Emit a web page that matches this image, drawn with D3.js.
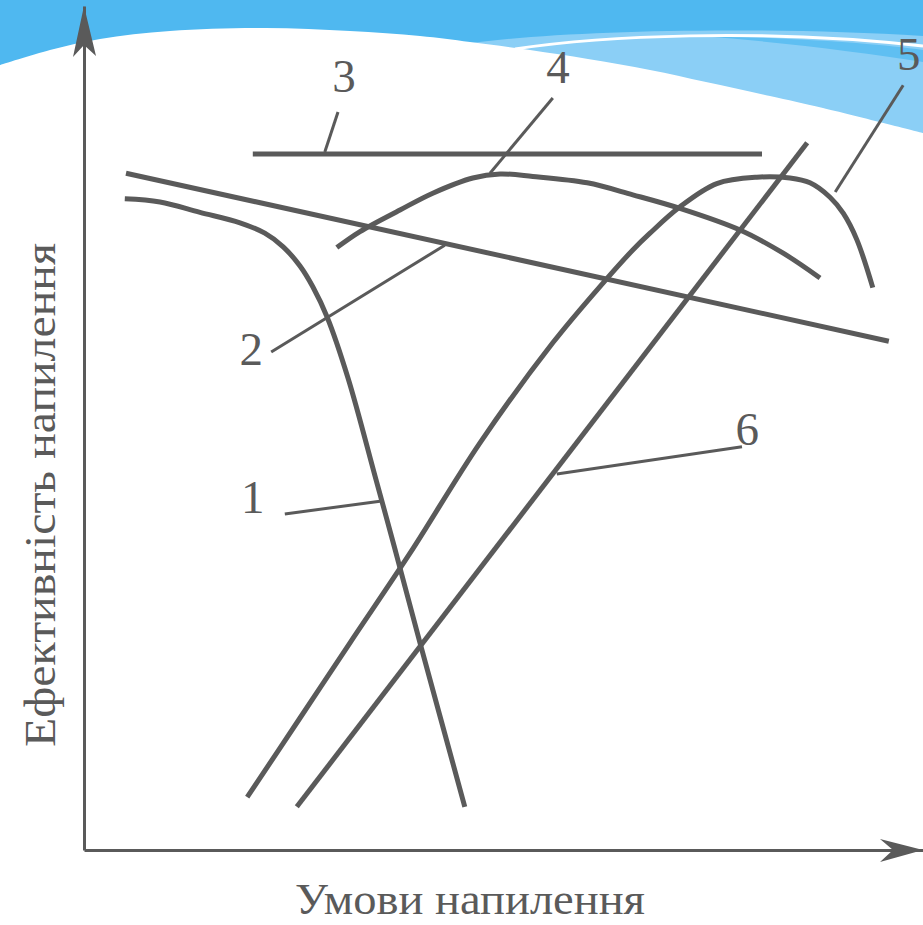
<!DOCTYPE html>
<html>
<head>
<meta charset="utf-8">
<script src="https://cdn.jsdelivr.net/npm/d3@7/dist/d3.min.js"></script>
<style>
  html, body { margin: 0; padding: 0; background: #fff; }
  svg { display: block; }
  text { font-family: 'Liberation Serif', 'Times New Roman', Tinos, 'DejaVu Serif', serif; }
</style>
</head>
<body>
<div id="chart"></div>
<script>
// values, in axis units (x: 0..105, y: 0..105.5)
const series1 = [[5.1, 81.4], [9.5, 81.0], [14.5, 79.7], [19.5, 78.4], [22.6, 77.1], [24.9, 75.4],
  [27.0, 73.0], [28.6, 70.4], [30.4, 66.6], [33.0, 59.0], [36.5, 46.3], [38.9, 37.5],
  [42.0, 25.9], [47.6, 5.4]]
const series2 = [[5.25, 84.6], [100.6, 63.6]]
const series3 = [[21.1, 87.0], [84.75, 87.0]]
const series4 = [[31.6, 75.3], [34.5, 77.3], [39.5, 80.0], [43.6, 82.1], [48.6, 84.0], [52.0, 84.5],
  [56.1, 84.2], [62.9, 83.4], [68.6, 81.9], [74.5, 80.2], [82.0, 77.5], [87.4, 74.6], [92.0, 71.5]]
const series5 = [[20.4, 6.6], [27.0, 16.5], [33.25, 25.9], [40.75, 37.1], [49.5, 50.9], [58.6, 63.4],
  [64.9, 70.9], [68.6, 75.0], [70.75, 77.1], [74.5, 80.4], [79.1, 83.3], [84.1, 84.1],
  [88.25, 84.0], [90.75, 83.4], [93.25, 81.6], [94.9, 79.6], [96.6, 76.3], [98.6, 70.3]]
const series6 = [[26.6, 5.4], [90.4, 88.4]]

const seriesNames = ['1', '2', '3', '4', '5', '6']
// label anchor and leader line (from label to curve) for each series
const labelAt = [[21.1, 42.1], [20.9, 60.6], [32.5, 94.75], [59.25, 95.9], [103.1, 97.5], [82.9, 50.6]]
const leaders = [
  [[25.1, 42.0], [37.0, 43.6]],
  [[23.4, 62.25], [45.1, 75.6]],
  [[31.75, 92.25], [30.1, 87.25]],
  [[58.6, 94.0], [50.75, 84.6]],
  [[102.4, 95.6], [93.9, 82.25]],
  [[82.25, 50.4], [59.1, 47.0]]
]

const xTitle = 'Умови напилення'
const yTitle = 'Ефективність напилення'

const width = 923
const height = 925
const ink = '#5a5a5a'
const serif = "'Liberation Serif', 'Times New Roman', Tinos, 'DejaVu Serif', serif"

const svg = d3.select('#chart').append('svg')
  .attr('width', width).attr('height', height)
  .attr('viewBox', `0 0 ${width} ${height}`)

// slide background: blue band with white wave
const bg = svg.append('g')
bg.append('rect').attr('width', width).attr('height', 160).attr('fill', '#4fb8f0')
bg.append('path')
  .attr('d', 'M465,44 C560,30 760,26 923,36 L923,260 L465,260 Z')
  .attr('fill', '#8bcff6')
bg.append('path')
  .attr('d', 'M700,36 C800,38 880,44 923,50 L923,62 C860,52 780,42 700,36 Z')
  .attr('fill', '#5fbff2')
bg.append('path')
  .attr('d', 'M515,49 C600,36 760,28 923,46')
  .attr('fill', 'none').attr('stroke', '#fff').attr('stroke-width', 3)
const waveTop = [[0, 65], [50, 50], [100, 39], [170, 31], [265, 28], [350, 31], [420, 36], [470, 42],
  [530, 50], [588, 59], [650, 70], [706, 82], [770, 96], [823, 108], [923, 133]]
const wave = d3.line().curve(d3.curveCatmullRom)(waveTop)
bg.append('path')
  .attr('d', `${wave} L923,${height} L0,${height} Z`)
  .attr('fill', '#fff')

const x = d3.scaleLinear().domain([0, 105]).range([84, 924])
const y = d3.scaleLinear().domain([0, 105.5]).range([850, 6])

// axes: bare domain lines with arrow heads
const xAxis = svg.append('g').attr('transform', `translate(0,${y(0)})`)
  .call(d3.axisBottom(x).tickValues([]).tickSizeOuter(0))
xAxis.select('.domain').attr('stroke', ink).attr('stroke-width', 3)
const yAxis = svg.append('g').attr('transform', `translate(${x(0)},0)`)
  .call(d3.axisLeft(y).tickValues([]).tickSizeOuter(0))
yAxis.select('.domain').attr('stroke', ink).attr('stroke-width', 3)

const xEnd = x.range()[1] - 1
const yEnd = y.range()[1]
svg.append('path')
  .attr('d', `M${xEnd},${y(0)} L${xEnd - 43},${y(0) - 11} L${xEnd - 30},${y(0)} L${xEnd - 43},${y(0) + 12} Z`)
  .attr('fill', ink)
svg.append('path')
  .attr('d', `M${x(0)},${yEnd} L${x(0) - 11},${yEnd + 51} L${x(0)},${yEnd + 39} L${x(0) + 12},${yEnd + 50} Z`)
  .attr('fill', ink)

// curves
const smooth = d3.line().x(d => x(d[0])).y(d => y(d[1])).curve(d3.curveCatmullRom.alpha(0.5))
const straight = d3.line().x(d => x(d[0])).y(d => y(d[1]))

const plotted = [
  { data: series1, gen: smooth },
  { data: series2, gen: straight },
  { data: series3, gen: straight },
  { data: series4, gen: smooth },
  { data: series5, gen: smooth },
  { data: series6, gen: straight }
]

plotted.forEach(s => {
  svg.append('path').datum(s.data).attr('d', s.gen)
    .attr('fill', 'none').attr('stroke', ink).attr('stroke-width', 5)
})

// leader lines and numbers
leaders.forEach(l => {
  svg.append('path').datum(l).attr('d', straight)
    .attr('fill', 'none').attr('stroke', ink).attr('stroke-width', 3)
})

svg.selectAll('text.num').data(seriesNames).join('text')
  .attr('class', 'num')
  .attr('x', (d, i) => x(labelAt[i][0]))
  .attr('y', (d, i) => y(labelAt[i][1]))
  .attr('text-anchor', 'middle')
  .attr('fill', ink)
  .attr('font-family', serif)
  .attr('font-size', 47)
  .text(d => d)

// axis titles
svg.append('text')
  .attr('x', 470).attr('y', 914)
  .attr('text-anchor', 'middle')
  .attr('textLength', 350).attr('lengthAdjust', 'spacingAndGlyphs')
  .attr('fill', ink)
  .attr('font-family', serif)
  .attr('font-size', 44)
  .text(xTitle)

svg.append('text')
  .attr('transform', 'translate(55,495) rotate(-90)')
  .attr('text-anchor', 'middle')
  .attr('textLength', 504).attr('lengthAdjust', 'spacingAndGlyphs')
  .attr('fill', ink)
  .attr('font-family', serif)
  .attr('font-size', 45)
  .text(yTitle)
</script>
</body>
</html>
